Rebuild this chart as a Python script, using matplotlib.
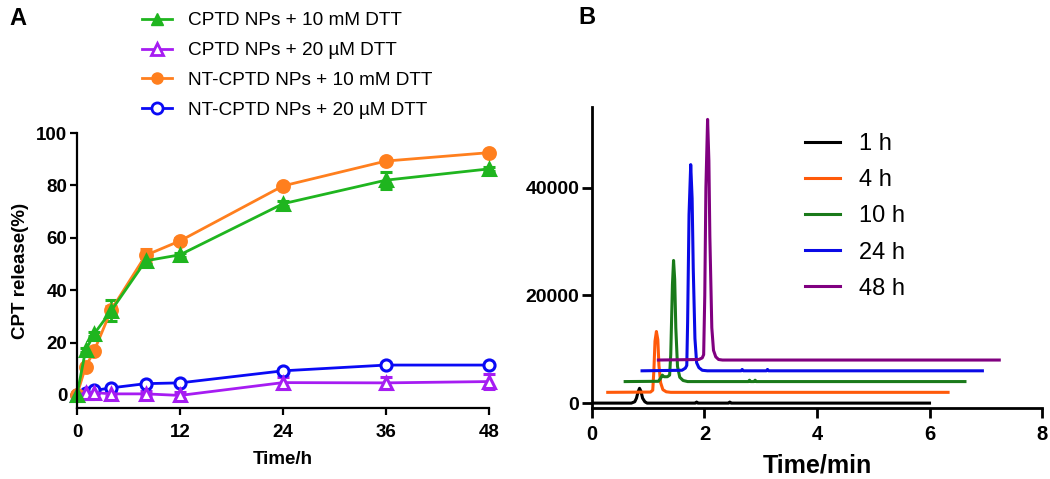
import matplotlib
matplotlib.use("Agg")
import matplotlib.pyplot as plt
from matplotlib.lines import Line2D

plt.rcParams['font.family'] = ['Liberation Sans', 'DejaVu Sans']

# ---- panel A: release curves ----
time_h = [0, 1, 2, 4, 8, 12, 24, 36, 48]
cptd_10mM = [0, 17, 23.3, 32.2, 51.2, 53.5, 73, 82, 86.3]
cptd_10mM_err = [0.5, 0.8, 0.8, 4, 1.2, 0.8, 1, 3.2, 0.8]
cptd_20uM = [0, 0.6, 0.9, 0.4, 0.4, -0.2, 4.7, 4.6, 5.1]
cptd_20uM_err = [0.5, 0.5, 0.6, 0.8, 1.0, 1.5, 2.3, 2.3, 2.7]
nt_10mM = [0, 10.7, 16.8, 32.5, 53.3, 58.8, 79.8, 89.3, 92.5]
nt_10mM_err = [0.5, 0.8, 0.8, 1.5, 2.5, 1.0, 0.8, 0.8, 0.8]
nt_20uM = [0, 0.7, 1.7, 2.7, 4.3, 4.6, 9.2, 11.4, 11.4]
nt_20uM_err = [0.3, 0.3, 0.3, 0.4, 0.4, 0.4, 0.5, 0.5, 0.5]

labels_A = ["CPTD NPs + 10 mM DTT", "CPTD NPs + 20 \u00b5M DTT",
            "NT-CPTD NPs + 10 mM DTT", "NT-CPTD NPs + 20 \u00b5M DTT"]

# ---- panel B: chromatograms (offset traces) ----
t_1h = [0, 0.70, 0.76, 0.79, 0.82, 0.845, 0.87, 0.90, 0.94, 0.98, 1.84, 1.86, 1.88, 2.43, 2.45, 2.47, 6.0]
s_1h = [0, 0, 250, 900, 2100, 2750, 2200, 900, 250, 0, 0, 200, 0, 0, 200, 0, 0]

t_4h = [0.28, 1.04, 1.08, 1.10, 1.12, 1.145, 1.17, 1.19, 1.22, 1.26, 1.32, 1.40, 6.33]
s_4h = [2000, 2050, 2400, 6000, 11500, 13300, 11800, 7000, 3800, 2500, 2100, 2000, 2000]

t_10h = [0.59, 1.18, 1.22, 1.25, 1.28, 1.34, 1.38, 1.40, 1.43, 1.45, 1.47, 1.49, 1.52, 1.56, 1.62, 1.70,
         2.78, 2.80, 2.82, 2.88, 2.90, 2.92, 6.63]
s_10h = [4000, 4050, 4600, 5200, 4900, 4900, 5200, 9000, 22000, 26500, 23000, 14000, 6800, 4800, 4200, 4000,
         4000, 4250, 4000, 4000, 4250, 4000, 4000]

t_24h = [0.89, 1.60, 1.66, 1.685, 1.70, 1.725, 1.755, 1.78, 1.80, 1.83, 1.86, 1.90, 1.96, 2.05,
         2.65, 2.67, 2.69, 3.10, 3.12, 3.14, 6.94]
s_24h = [6000, 6100, 6500, 7000, 15000, 35000, 44300, 38000, 25000, 12000, 7500, 6600, 6100, 6000,
         6000, 6250, 6000, 6000, 6250, 6000, 6000]

t_48h = [1.18, 1.90, 1.96, 1.985, 2.005, 2.025, 2.055, 2.078, 2.095, 2.13, 2.16, 2.20, 2.25, 2.32, 7.24]
s_48h = [8000, 8100, 8400, 9000, 20000, 40000, 52700, 45000, 31000, 14000, 9800, 8600, 8100, 8000, 8000]

labels_B = ["1 h", "4 h", "10 h", "24 h", "48 h"]
colors_B = ["black", "#FF5A0A", "#1A7A1A", "#0A0AE6", "#800080"]


def style_axis(ax, lw=1.6, size=12, length=5, pad=2):
    ax.spines['top'].set_visible(False)
    ax.spines['right'].set_visible(False)
    ax.spines['left'].set_linewidth(lw)
    ax.spines['bottom'].set_linewidth(lw)
    ax.tick_params(direction='out', length=length, width=lw, labelsize=size, pad=2)
    ax.tick_params(axis='x', pad=pad)
    for lab in ax.get_xticklabels() + ax.get_yticklabels():
        lab.set_fontweight('bold')


fig = plt.figure(figsize=(10.5, 4.79), dpi=100)

# ---------------- A ----------------
axA = fig.add_axes([0.0733, 0.1482, 0.3924, 0.5741])
series = [
    (nt_20uM, nt_20uM_err, '#0A0AF5', 'o', 'white', 8),
    (nt_10mM, nt_10mM_err, '#FF7F1E', 'o', '#FF7F1E', 8.5),
    (cptd_20uM, cptd_20uM_err, '#A61CF2', '^', 'white', 8.5),
    (cptd_10mM, cptd_10mM_err, '#1FB51F', '^', '#1FB51F', 8.5),
]
for y, err, c, m, fc, ms in series:
    cont = axA.errorbar(time_h, y, yerr=err, color=c, marker=m, mfc=fc, mec=c, ms=ms, mew=2.2,
                        lw=2, elinewidth=2, capsize=4.5, capthick=2)
    for art in cont.get_children():
        art.set_clip_on(False)

axA.set_xlim(0, 48)
axA.set_ylim(-5, 100)
axA.set_xticks([0, 12, 24, 36, 48])
axA.set_yticks([0, 20, 40, 60, 80, 100])
style_axis(axA, lw=1.6, size=13.5, length=5, pad=6.5)
axA.set_xlabel("Time/h", fontsize=13.5, fontweight='bold', labelpad=7)
axA.set_ylabel("CPT release(%)", fontsize=13.5, fontweight='bold', labelpad=5)

handles_A = [
    Line2D([], [], color='#1FB51F', marker='^', mfc='#1FB51F', ms=8, lw=2),
    Line2D([], [], color='#A61CF2', marker='^', mfc='white', ms=8, mew=2, lw=2),
    Line2D([], [], color='#FF7F1E', marker='o', mfc='#FF7F1E', ms=8, lw=2),
    Line2D([], [], color='#0A0AF5', marker='o', mfc='white', ms=8, mew=2, lw=2),
]
fig.legend(handles_A, labels_A, loc='upper left', bbox_to_anchor=(0.135, 0.975), frameon=False,
           fontsize=13.7, handlelength=1.6, handletextpad=0.85, labelspacing=0.66, borderpad=0,
           borderaxespad=0)

fig.text(0.009, 0.985, "A", fontsize=17, fontweight='bold', va='top')

# ---------------- B ----------------
axB = fig.add_axes([0.5638, 0.1472, 0.4286, 0.6294])
traces = [(t_1h, s_1h), (t_4h, s_4h), (t_10h, s_10h), (t_24h, s_24h), (t_48h, s_48h)]
for (t, s), c, lab in zip(traces, colors_B, labels_B):
    axB.plot(t, s, color=c, lw=2.2, label=lab)

axB.set_xlim(0, 8)
axB.set_ylim(-1000, 55000)
axB.set_xticks([0, 2, 4, 6, 8])
axB.set_yticks([0, 20000, 40000])
style_axis(axB, lw=2, size=14.5, length=7, pad=5)
for lab in axB.get_yticklabels():
    lab.set_fontsize(14)
axB.set_xlabel("Time/min", fontsize=18, fontweight='bold', labelpad=7)
axB.legend(loc='upper left', bbox_to_anchor=(0.7667, 0.7223), bbox_transform=fig.transFigure,
           frameon=False, fontsize=17, handlelength=1.5, handletextpad=0.8, labelspacing=0.6,
           borderpad=0, borderaxespad=0)

fig.text(0.551, 0.988, "B", fontsize=17, fontweight='bold', va='top')

fig.savefig("out.png", dpi=100)
